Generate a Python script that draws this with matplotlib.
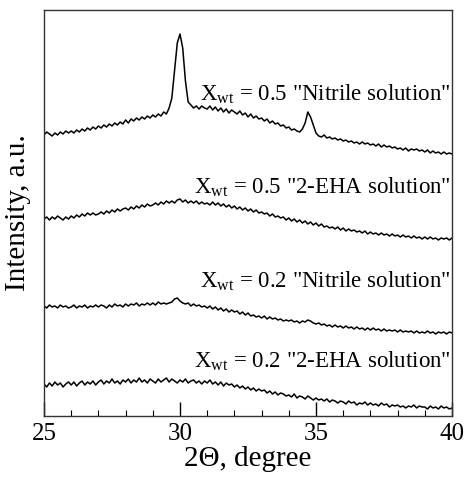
import numpy as np
import matplotlib
matplotlib.use("Agg")
import matplotlib.pyplot as plt
from matplotlib.ticker import MultipleLocator

plt.rcParams["font.family"] = ["Liberation Serif", "DejaVu Serif"]
plt.rcParams["mathtext.fontset"] = "custom"
plt.rcParams["mathtext.rm"] = "Liberation Serif"

# 2-theta sampling, 25..40 deg every 0.1 deg
two_theta = np.round(np.arange(25.0, 40.05, 0.1), 1)

# XRD patterns (already offset vertically, a.u.)
i_nitrile_05 = [281, 284, 282, 280, 283, 281, 284, 282, 285, 283,
                285, 283, 286, 284, 287, 285, 288, 286, 289, 287,
                290, 288, 291, 289, 292, 290, 293, 291, 294, 292,
                296, 293, 297, 295, 298, 296, 299, 297, 300, 298,
                301, 299, 302, 300, 304, 302, 308, 318, 345, 373,
                382, 368, 335, 314, 311, 308, 310, 307, 310, 308,
                307, 310, 306, 309, 305, 308, 304, 307, 303, 306,
                304, 302, 305, 301, 303, 299, 302, 298, 300, 297,
                298, 295, 297, 293, 295, 292, 293, 290, 291, 288,
                289, 286, 287, 285, 284, 287, 293, 304, 299, 291,
                283, 280, 279, 281, 278, 279, 277, 278, 276, 277,
                275, 276, 274, 275, 273, 274, 272, 274, 272, 273,
                271, 272, 270, 272, 269, 271, 269, 270, 268, 269,
                267, 268, 266, 268, 265, 267, 266, 267, 265, 266,
                264, 266, 263, 265, 263, 264, 262, 264, 262, 263,
                262]

i_eha_05 = [197, 199, 196, 199, 197, 200, 198, 196, 199, 197,
            200, 198, 201, 199, 202, 200, 203, 201, 203, 201,
            202, 204, 202, 205, 203, 206, 204, 207, 205, 207,
            208, 206, 209, 207, 210, 208, 211, 209, 212, 210,
            211, 213, 211, 214, 212, 215, 213, 215, 213, 216,
            217, 214, 216, 213, 215, 213, 215, 212, 214, 212,
            213, 211, 214, 211, 213, 210, 212, 209, 211, 208,
            210, 207, 209, 206, 208, 205, 207, 204, 206, 203,
            204, 202, 203, 200, 202, 199, 200, 198, 199, 196,
            198, 195, 197, 194, 196, 193, 195, 192, 194, 191,
            193, 190, 192, 189, 190, 188, 189, 187, 189, 186,
            188, 185, 187, 185, 186, 184, 185, 183, 185, 182,
            184, 182, 183, 181, 183, 181, 182, 180, 182, 180,
            181, 179, 181, 179, 180, 178, 180, 178, 179, 177,
            179, 177, 179, 177, 178, 176, 178, 177, 178, 176,
            178]

i_nitrile_02 = [110, 108, 111, 109, 110, 108, 111, 109, 110, 108,
                109, 111, 108, 110, 109, 111, 108, 110, 109, 111,
                109, 111, 110, 108, 111, 109, 112, 110, 111, 109,
                112, 110, 112, 111, 113, 110, 112, 111, 113, 111,
                113, 111, 114, 112, 113, 112, 113, 114, 117, 118,
                115, 113, 112, 113, 110, 112, 110, 111, 109, 110,
                108, 110, 107, 109, 106, 108, 105, 107, 104, 106,
                104, 105, 102, 104, 101, 103, 100, 101, 99, 100,
                98, 100, 97, 99, 97, 98, 96, 97, 95, 96,
                95, 96, 94, 95, 93, 95, 94, 96, 95, 93,
                92, 93, 91, 92, 90, 91, 89, 91, 89, 90,
                88, 90, 88, 89, 87, 89, 87, 88, 86, 88,
                86, 88, 86, 87, 85, 87, 85, 86, 85, 86,
                84, 86, 84, 85, 84, 85, 83, 85, 83, 84,
                83, 85, 83, 84, 82, 84, 83, 84, 82, 84,
                83]

i_eha_02 = [32, 29, 33, 30, 34, 31, 33, 29, 32, 34,
            31, 34, 30, 33, 35, 31, 34, 32, 35, 31,
            34, 36, 32, 35, 33, 37, 33, 35, 32, 36,
            34, 37, 33, 36, 34, 38, 34, 36, 33, 37,
            35, 33, 37, 34, 36, 38, 34, 37, 35, 33,
            36, 34, 37, 33, 35, 36, 33, 35, 32, 35,
            33, 36, 32, 34, 31, 34, 30, 33, 31, 32,
            29, 31, 28, 30, 27, 29, 26, 28, 25, 27,
            25, 26, 23, 25, 22, 24, 21, 23, 22, 20,
            21, 19, 22, 18, 20, 19, 17, 20, 18, 16,
            18, 16, 17, 15, 17, 14, 16, 15, 13, 15,
            14, 12, 15, 13, 14, 11, 13, 12, 14, 11,
            13, 11, 12, 10, 13, 11, 12, 9, 11, 10,
            11, 9, 10, 8, 10, 9, 11, 8, 10, 9,
            9, 7, 10, 8, 9, 7, 10, 8, 9, 7,
            8]

labels = [r'X$_{\rm wt}$ = 0.5 "Nitrile solution"',
          r'X$_{\rm wt}$ = 0.5 "2-EHA solution"',
          r'X$_{\rm wt}$ = 0.2 "Nitrile solution"',
          r'X$_{\rm wt}$ = 0.2 "2-EHA solution"']
label_y = [316, 223, 129, 49]

fig = plt.figure(figsize=(4.66, 4.79), dpi=100)
ax = fig.add_axes([44 / 466, 63 / 479, 408 / 466, 406 / 479])

for curve in [i_nitrile_05, i_eha_05, i_nitrile_02, i_eha_02]:
    ax.plot(two_theta, curve, color="black", lw=1.1)

for lab, yy in zip(labels, label_y):
    ax.text(39.95, yy, lab, ha="right", va="baseline", fontsize=16.5)

ax.set_xlim(25, 40)
ax.set_ylim(0, 406)
ax.xaxis.set_major_locator(MultipleLocator(5))
ax.xaxis.set_minor_locator(MultipleLocator(1))
ax.tick_params(axis="x", which="major", direction="in", length=10, width=1,
               labelsize=18, pad=5)
ax.tick_params(axis="x", which="minor", direction="in", length=4, width=0.8)
ax.set_yticks([])
for sp in ax.spines.values():
    sp.set_color("#333333")
    sp.set_linewidth(1.0)

ax.set_xlabel("2Θ, degree", fontsize=21, labelpad=1)
ax.set_ylabel("Intensity, a.u.", fontsize=21)
ax.yaxis.set_label_coords(-0.032, 0.5)

fig.savefig("out.png", dpi=100)
